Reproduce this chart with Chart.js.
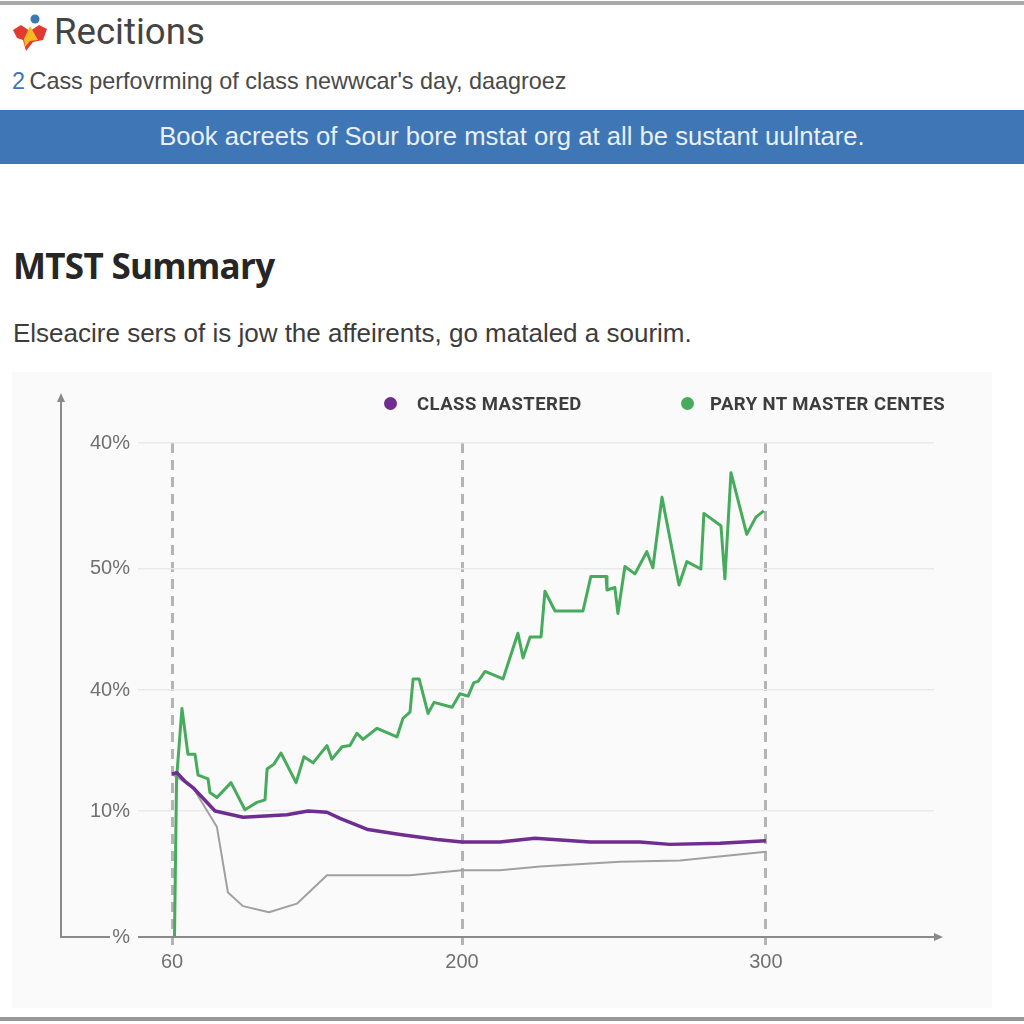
<!DOCTYPE html>
<html>
<head>
<meta charset="utf-8">
<title>MTST Summary</title>
<script src="https://cdn.jsdelivr.net/npm/chart.js@4"></script>
<style>
  html, body { margin: 0; padding: 0; background: #fff; }
  body { width: 1024px; height: 1024px; position: relative; overflow: hidden; font-family: "Liberation Sans", Arial, sans-serif; color: #444; }
  .edge { position: absolute; left: 0; width: 1024px; background: #a9a9a9; }
  .edge.top { top: 1px; height: 4px; }
  .edge.bottom { top: 1017px; height: 4px; background: #989898; }
  .line { position: absolute; white-space: nowrap; }
  #logo { position: absolute; left: 0; top: 0; }
  #brand { left: 54px; top: 13px; font-size: 36.6px; line-height: 38px; color: #444; font-family: Roboto, sans-serif; }
  #sub { left: 12px; top: 67px; font-size: 23.4px; line-height: 28px; color: #4a4a4a; }
  #sub b { font-weight: normal; color: #3f76b5; margin-right: -2px; }
  #band { position: absolute; left: 0; top: 110px; width: 1024px; height: 54px; background: #3f76b5; color: #e8f0f8; font-size: 25.65px; line-height: 52px; text-align: center; }
  #heading { left: 13px; top: 244px; font-size: 35px; line-height: 44px; font-weight: bold; color: #262626; font-family: "Open Sans", sans-serif; letter-spacing: -0.7px; }
  #para { left: 13px; top: 318px; font-size: 26px; line-height: 30px; color: #3c3c3c; }
  #panel { position: absolute; left: 12px; top: 372px; width: 980px; height: 636px; background: #fafafa; }
  #chart { display: block; }
  .legend-item { position: absolute; top: 21px; height: 22px; font: 700 18.5px/22px Roboto, sans-serif; letter-spacing: 0.45px; color: #3d3d3d; white-space: nowrap; }
  .legend-item i { position: absolute; left: 0; top: 4px; width: 13px; height: 13px; border-radius: 50%; }
  .legend-item span { position: absolute; top: 0; }
</style>
</head>
<body>
<div class="edge top"></div>
<svg id="logo" width="60" height="60" viewBox="0 0 60 60">
  <path d="M13 30 L21 25 L30 31 L39 25 L47 29 L43 40 L33 42 L26 51 L23 40 L17 38 Z" fill="#e23a30"/>
  <path d="M30 26 L38 40 L30 41 L25 47 L24 39 Z" fill="#f6b921"/>
  <circle cx="35" cy="19" r="4.5" fill="#3c78b4"/>
</svg>
<div class="line" id="brand">Recitions</div>
<div class="line" id="sub"><b>2</b> Cass perfovrming of class newwcar's day, daagroez</div>
<div id="band">Book acreets of Sour bore mstat org at all be sustant uulntare.</div>
<div class="line" id="heading">MTST Summary</div>
<div class="line" id="para">Elseacire sers of is jow the affeirents, go mataled a sourim.</div>
<div id="panel">
  <canvas id="chart" width="980" height="636"></canvas>
  <div id="legend"></div>
</div>
<div class="edge bottom"></div>
<script>
  // tick labels as printed; the printed values are not evenly spaced on the axis
  const xTickLabels = ["60", "200", "300"];
  const yTickLabels = ["%", "10%", "40%", "50%", "40%"];
  const yTickPositions = [0, 10.2, 20, 29.8, 40];

  const classMasteredX = [60, 62.4, 66.3, 70.1, 80.8, 94.3, 115.5, 125.7, 134.8, 141.1, 154.6, 170.1, 187.9, 200, 212.5, 224, 242.1, 258.5, 268.4, 284.9, 300];
  const classMasteredY = [13.2, 13.3, 12.6, 12.1, 10.2, 9.7, 9.9, 10.2, 10.1, 9.6, 8.7, 8.3, 7.9, 7.7, 7.7, 8.0, 7.7, 7.7, 7.5, 7.6, 7.8];

  const partyMasterX = [61.2, 62.2, 64.8, 67.7, 71.1, 72.6, 77.4, 78.3, 81.7, 88.5, 95.2, 101, 104.9, 105.9, 109.2, 112.6, 119.9, 123.7, 128.1, 134.8, 137.2, 142.1, 145.9, 149.3, 152.2, 159, 168.6, 171.5, 174.9, 176.4, 179.3, 183.6, 186.5, 195.2, 199, 202, 203.9, 205.3, 207.6, 213.5, 218.4, 220.1, 222.4, 226, 227.3, 230.6, 239.8, 242.4, 247.4, 247.7, 250.3, 251.3, 253.6, 256.9, 260.8, 262.8, 265.8, 271.4, 274, 278.6, 279.6, 285.2, 286.5, 288.5, 293.7, 296.7, 299.3];
  const partyMasterY = [0, 12.8, 18.5, 14.8, 14.8, 13.1, 12.8, 11.7, 11.3, 12.5, 10.3, 10.9, 11.1, 13.6, 14, 14.9, 12.5, 14.6, 14.1, 15.5, 14.4, 15.4, 15.5, 16.5, 16, 16.9, 16.2, 17.7, 18.2, 20.9, 20.9, 18.1, 19, 18.6, 19.7, 19.5, 20.6, 20.7, 21.5, 20.9, 24.6, 22.6, 24.3, 24.3, 28, 26.4, 26.4, 29.2, 29.2, 28.1, 28.3, 26.2, 30, 29.4, 31.2, 29.9, 35.6, 28.5, 30.4, 29.8, 34.3, 33.3, 29, 37.6, 32.6, 34, 34.5];

  const baselineX = [60, 70.1, 81.7, 87, 94.3, 106.8, 120.3, 134.8, 174.9, 200, 212.5, 225.7, 252, 271.7, 300];
  const baselineY = [13.2, 12.1, 8.9, 3.6, 2.5, 2, 2.7, 5, 5, 5.4, 5.4, 5.7, 6.1, 6.2, 6.9];

  // x axis is stretched: 60-200 and 200-300 take nearly the same width
  function toAxis(v) {
    return v <= 200 ? (v - 60) / 140 : 1 + (v - 200) / 100 * 1.048;
  }
  function points(xs, ys) {
    return xs.map((x, i) => ({ x: toAxis(x), y: ys[i] }));
  }
  const xTickPositions = xTickLabels.map(l => toAxis(Number(l)));

  const arrowAxes = {
    id: "arrowAxes",
    afterDraw(chart) {
      const { ctx, chartArea: a } = chart;
      const left = 49, top = a.top - 45, right = a.right + 4, y = a.bottom;
      ctx.save();
      ctx.strokeStyle = "#8a8a8a";
      ctx.fillStyle = "#8a8a8a";
      ctx.lineWidth = 2;
      ctx.beginPath();
      ctx.moveTo(left, top); ctx.lineTo(left, y); ctx.lineTo(left + 49, y);
      ctx.moveTo(a.left, y); ctx.lineTo(right, y);
      ctx.stroke();
      ctx.beginPath();
      ctx.moveTo(left, top - 5); ctx.lineTo(left - 4, top + 4); ctx.lineTo(left + 4, top + 4); ctx.closePath();
      ctx.moveTo(right + 5, y); ctx.lineTo(right - 4, y - 4); ctx.lineTo(right - 4, y + 4); ctx.closePath();
      ctx.fill();
      ctx.restore();
    },
  };

  const chart = new Chart(document.getElementById("chart"), {
    type: "line",
    data: {
      datasets: [
        { label: "CLASS MASTERED", data: points(classMasteredX, classMasteredY), borderColor: "#6f2c91", backgroundColor: "#6f2c91", borderWidth: 3.5, borderJoinStyle: "round", pointRadius: 0, tension: 0 },
        { label: "PARY NT MASTER CENTES", data: points(partyMasterX, partyMasterY), borderColor: "#46ab5c", backgroundColor: "#46ab5c", borderWidth: 3, borderJoinStyle: "round", pointRadius: 0, tension: 0 },
        { label: "Baseline", data: points(baselineX, baselineY), borderColor: "#a0a0a0", backgroundColor: "#a0a0a0", borderWidth: 2, borderJoinStyle: "round", pointRadius: 0, tension: 0 },
      ],
    },
    options: {
      responsive: false,
      animation: false,
      layout: { padding: { top: 71, right: 58, bottom: 0, left: 0 } },
      plugins: { legend: { display: false }, tooltip: { enabled: false } },
      scales: {
        x: {
          type: "linear",
          min: -34 / 290,
          max: 762 / 290,
          afterBuildTicks: s => { s.ticks = xTickPositions.map(value => ({ value })); },
          afterFit: s => { s.height = 71; },
          ticks: { autoSkip: false, maxRotation: 0, padding: 5, color: "#707070", font: { family: "Liberation Sans", size: 20 }, callback: (v, i) => xTickLabels[i] },
          grid: { color: "#b4b4b4", lineWidth: 3, tickLength: 8, tickColor: "#b4b4b4", tickBorderDash: [10, 7] },
          border: { display: false, dash: [10, 7] },
        },
        y: {
          min: 0,
          max: 40,
          afterBuildTicks: s => { s.ticks = yTickPositions.map(value => ({ value })); },
          afterFit: s => { s.width = 126; },
          ticks: { autoSkip: false, padding: 8, color: "#707070", font: { family: "Liberation Sans", size: 20 }, callback: (v, i) => yTickLabels[i] },
          grid: { color: "#e9e9e9", lineWidth: 1.5, drawTicks: false },
          border: { display: false },
        },
      },
    },
    plugins: [arrowAxes],
  });

  // legend is html so the two entries can sit far apart
  const legendLefts = [372, 669];
  const legendTextGaps = [33, 29];
  chart.data.datasets.slice(0, 2).forEach((ds, i) => {
    const item = document.createElement("div");
    item.className = "legend-item";
    item.style.left = legendLefts[i] + "px";
    item.innerHTML = `<i style="background:${ds.borderColor}"></i><span style="left:${legendTextGaps[i]}px">${ds.label}</span>`;
    document.getElementById("legend").appendChild(item);
  });
</script>
</body>
</html>
